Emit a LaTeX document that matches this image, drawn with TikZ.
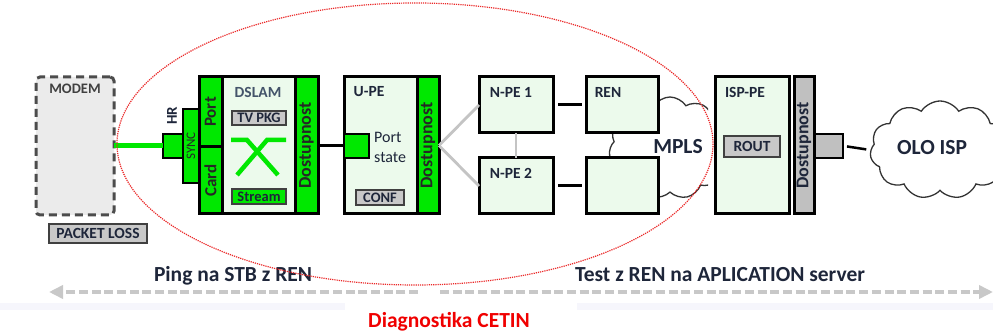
\documentclass[tikz,border=0pt]{standalone}
\usepackage{fontspec}
\setmainfont{Carlito}
\usetikzlibrary{shapes.symbols,arrows.meta,fit}
\definecolor{gr}{RGB}{0,232,0}
\definecolor{lg}{RGB}{236,250,236}
\definecolor{tagc}{RGB}{200,200,200}
\definecolor{dcol}{RGB}{192,192,192}
\definecolor{txt}{RGB}{30,38,58}
\definecolor{slate}{RGB}{68,84,106}
\definecolor{ell}{RGB}{235,40,40}
\definecolor{cetin}{RGB}{240,0,0}
\definecolor{arr}{RGB}{200,200,200}
\definecolor{gline}{RGB}{196,196,196}
\definecolor{faint}{RGB}{246,246,252}
\definecolor{modemfill}{RGB}{235,235,235}
\begin{document}
\begin{tikzpicture}[x=1pt,y=-1pt,
  bx/.style={draw=black, line width=3pt, inner sep=0pt, outer sep=0pt},
  greenbox/.style={bx, fill=gr},
  thingreen/.style={draw=black, line width=2pt, inner sep=0pt, outer sep=0pt, fill=gr},
  lgbox/.style={bx, fill=lg},
  graycol/.style={bx, fill=dcol},
  tagst/.style={draw=black!75, line width=1.8pt, inner sep=0pt, outer sep=0pt, fill=tagc},
  modemst/.style={draw=black!70, line width=3pt, dash pattern=on 8pt off 5pt, rounded corners=4pt, fill=modemfill, inner sep=0pt, outer sep=0pt},
  lab/.style={inner sep=0pt, text=txt, font=\bfseries\fontsize{15.5}{16}\selectfont},
  taglab/.style={inner sep=0pt, text=txt, font=\bfseries\fontsize{14.5}{15}\selectfont},
  vlab/.style={inner sep=0pt, rotate=90, text=black!85, font=\bfseries\fontsize{17}{17}\selectfont},
  dostlab/.style={inner sep=0pt, rotate=90, text=black!85, font=\bfseries\fontsize{18}{18}\selectfont},
  biglab/.style={inner sep=0pt, text=txt, font=\bfseries\fontsize{21.5}{22}\selectfont},
  cloudst/.style={cloud, cloud puffs=11, cloud puff arc=115, cloud ignores aspect, draw=black!80, line width=1.3pt, fill=white, inner sep=0pt},
  blk/.style={draw=black, line width=3pt},
  gl/.style={draw=gline, line width=2.8pt},
  arrline/.style={draw=arr, line width=4pt, dash pattern=on 9pt off 3.7pt}
]
\clip (0,0) rectangle (993,331);
\fill[white] (0,0) rectangle (993,331);

% faint strips
\fill[faint] (0,303) rectangle (345,310);
\fill[faint] (577,303) rectangle (993,310);

% MPLS cloud (partly hidden)
\begin{scope}
  \clip (590,85) rectangle (708,210);
  \node[cloudst, minimum width=122pt, minimum height=102pt] (mpls) at (670,148) {};
\end{scope}

% OLO ISP cloud
\node[cloudst, minimum width=140pt, minimum height=98pt] (olo) at (940,150) {};
\node[biglab] (ololbl) at (932,148) {OLO ISP};

% MODEM
\node[modemst, fit={(36,77) (114,215)}] (modem) {};
\node[lab, text=black!75, font=\bfseries\fontsize{14.5}{15}\selectfont] (modemlbl) at (75,89) {MODEM};
\node[tagst, fit={(49,224) (147,243)}] (pl) {};
\node[lab] (pllbl) at (pl.center) {PACKET LOSS};

% HR / SYNC
\node[thingreen, fit={(183,109) (199,183)}] (sync) {};
\node[inner sep=0pt, rotate=90, text=black!85, font=\fontsize{13}{13}\selectfont] (synclbl) at (sync.center) {SYNC};
\node[thingreen, fit={(163,134) (183,158)}] (hr) {};
\node[vlab, text=txt, font=\bfseries\fontsize{15}{15}\selectfont] (hrlbl) at (172,116) {HR};
\draw[gr, line width=5pt] (modem.east) -- (hr.west);

% DSLAM
\node[greenbox, fit={(199,77) (222,147)}] (port) {};
\node[greenbox, fit={(199,147) (222,214)}] (card) {};
\node[lgbox, fit={(222,77) (295,214)}] (dslam) {};
\node[greenbox, fit={(295,77) (318,214)}] (dslamdost) {};
\node[vlab] (portlbl) at (port.center) {Port};
\node[vlab] (cardlbl) at (card.center) {Card};
\node[dostlab] (dslamdostlbl) at (dslamdost.center) {Dostupnost};
\node[lab, text=slate] (dslamlbl) at (258,92) {DSLAM};
\node[tagst, fit={(232,111) (286,125)}] (tvpkg) {};
\node[taglab] (tvpkglbl) at (tvpkg.center) {TV PKG};
\node[tagst, fill=gr, fit={(232,189) (286,204)}] (stream) {};
\node[taglab] (streamlbl) at (stream.center) {Stream};
\draw[gr, line width=4.5pt] (231,140) -- (247,140) -- (278,175);
\draw[gr, line width=4.5pt] (286,140) -- (267,140) -- (237,175);

% U-PE
\node[lgbox, fit={(344,77) (417,214)}] (upe) {};
\node[greenbox, fit={(417,77) (439,214)}] (upedost) {};
\node[dostlab] (upedostlbl) at (upedost.center) {Dostupnost};
\node[lab] (upelbl) at (369,92) {U-PE};
\node[thingreen, fit={(344,134) (369,158)}] (ps) {};
\node[inner sep=0pt, anchor=west, align=left, text=txt, font=\fontsize{16}{20}\selectfont] (pslbl) at (374,147) {Port\\state};
\node[tagst, fit={(356,190) (404,205)}] (conf) {};
\node[taglab] (conflbl) at (conf.center) {CONF};
\draw[blk, line width=2.5pt] (dslamdost.east) -- (upe.west);

% N-PE
\node[lgbox, fit={(479,77) (553,133)}] (npe1) {};
\node[lgbox, fit={(479,158) (553,214)}] (npe2) {};
\node[lab] (npe1lbl) at (511,92) {N-PE 1};
\node[lab] (npe2lbl) at (511,173) {N-PE 2};
\draw[gl] (upedost.east) -- (npe1.west);
\draw[gl] (upedost.east) -- (npe2.west);
\draw[gl] (npe1.south) -- (npe2.north);

% REN
\node[lgbox, fit={(586,77) (658,133)}] (ren) {};
\node[lgbox, fit={(586,158) (658,214)}] (ren2) {};
\node[lab] (renlbl) at (608,92) {REN};
\draw[blk, shorten <=5pt, shorten >=4pt] (npe1.east) -- (ren.west);
\draw[blk, shorten <=5pt, shorten >=4pt] (npe2.east) -- (ren2.west);
\node[biglab] (mplslbl) at (678,147) {MPLS};

% ISP-PE
\node[lgbox, fit={(715,77) (789,214)}] (isppe) {};
\node[lab] (isppelbl) at (745,92) {ISP-PE};
\node[tagst, fit={(724,136) (780,157)}] (rout) {};
\node[taglab, font=\bfseries\fontsize{15.5}{16}\selectfont] (routlbl) at (rout.center) {ROUT};
\node[graycol, fit={(794,77) (814,214)}] (ispdost) {};
\node[dostlab, text=txt] (ispdostlbl) at (ispdost.center) {Dostupnost};
\node[draw=black, line width=2pt, fill=dcol, inner sep=0pt, fit={(815,134) (843,158)}] (gsq) {};
\draw[blk, line width=2.5pt, shorten <=3pt, shorten >=4pt] (gsq.east) -- (olo.west);

% bottom arrows and texts
\node[biglab, anchor=base] (pinglbl) at (233,281) {Ping na STB z REN};
\node[biglab, anchor=base] (testlbl) at (720,281) {Test z REN na APLICATION server};
\coordinate (la) at (418,292);
\coordinate (lb) at (49,292);
\coordinate (ra) at (440,292);
\coordinate (rb) at (993,292);
\draw[arrline, -{Triangle[length=14pt,width=13pt]}] (la) -- (lb);
\draw[arrline, -{Triangle[length=14pt,width=13pt]}] (ra) -- (rb);
\node[inner sep=0pt, anchor=base, text=cetin, font=\bfseries\fontsize{21.5}{22}\selectfont] (cetinlbl) at (449,327) {Diagnostika CETIN};

% red dotted ellipse
\draw[ell, line width=1.2pt, densely dotted] (415,144) ellipse [x radius=298, y radius=141];
\end{tikzpicture}
\end{document}
